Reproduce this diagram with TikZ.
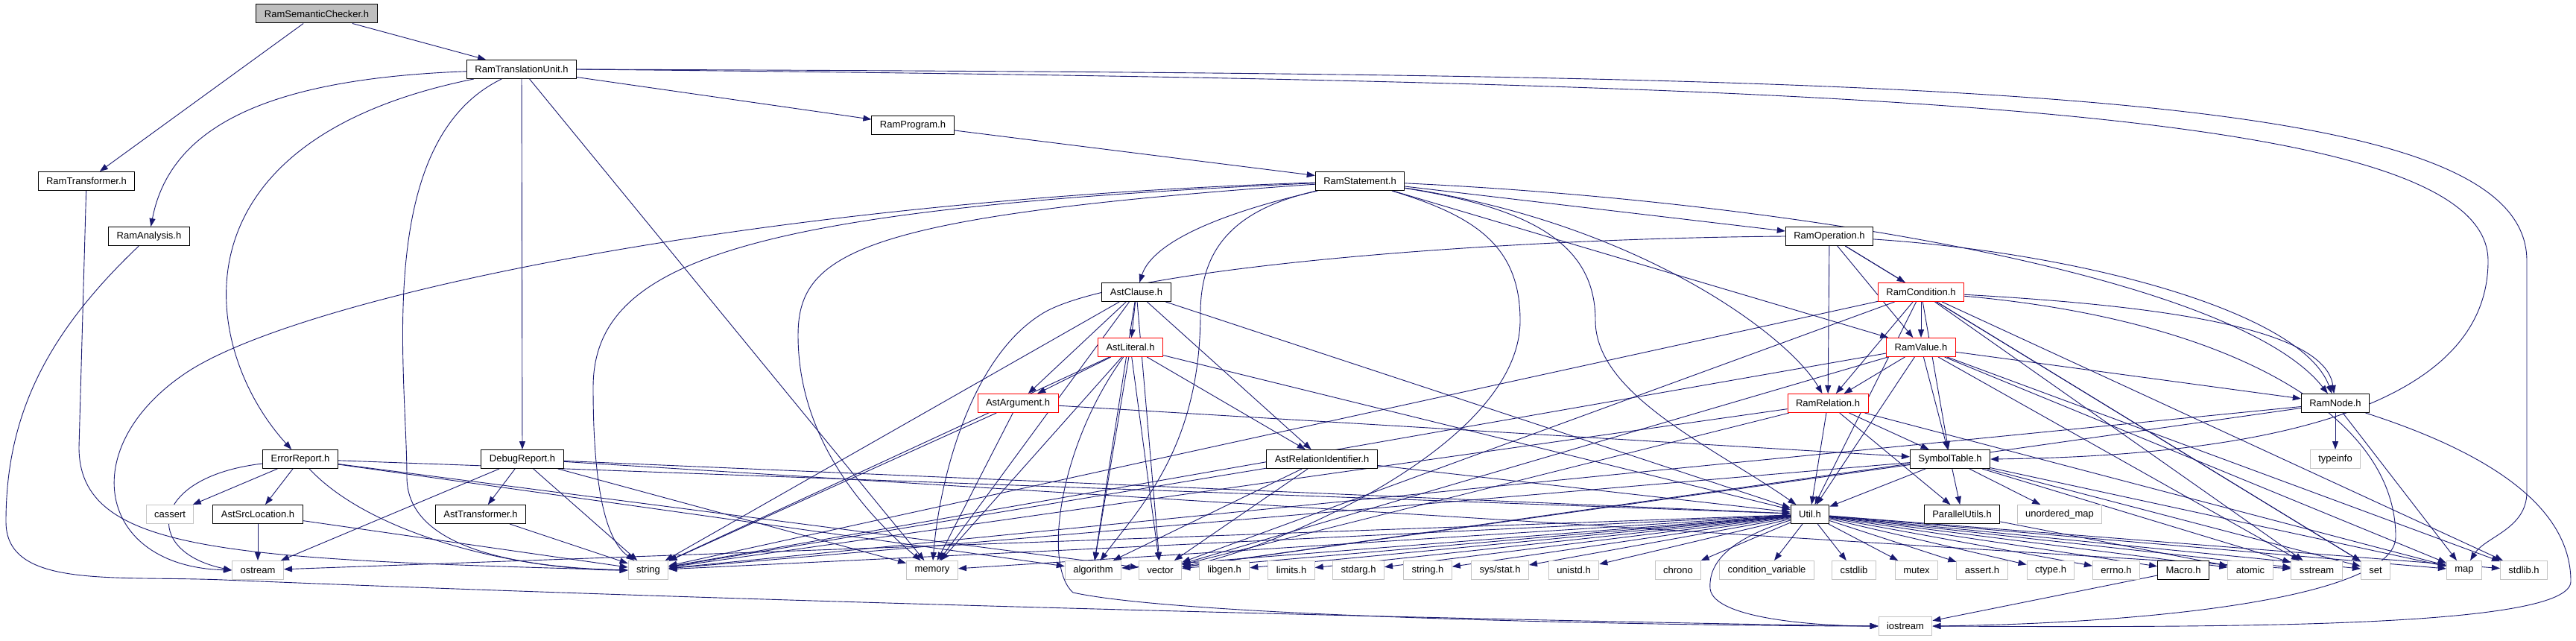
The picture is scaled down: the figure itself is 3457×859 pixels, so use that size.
\documentclass[tikz,border=0pt]{standalone}
\usepackage{fontspec}
\setmainfont{Liberation Sans}
\usepackage{tikz}
\usetikzlibrary{arrows.meta}
\definecolor{edgeblue}{RGB}{25,25,112}
\definecolor{sysgray}{RGB}{196,196,196}
\definecolor{rootgray}{RGB}{191,191,191}
\pgfdeclarelayer{edges}
\pgfsetlayers{edges,main}

\begin{document}
\begin{tikzpicture}[
  x=1pt, y=-1pt,
  box/.style={draw=black, line width=1pt, rectangle, fill=white, minimum height=25pt, inner xsep=11pt, inner ysep=0pt, font=\fontsize{13}{15}\selectfont},
  sys/.style={box, draw=sysgray},
  cut/.style={box, draw=red},
  root/.style={box, fill=rootgray},
  arr/.style={-{Triangle[length=11pt,width=8pt]}, draw=edgeblue, line width=0.9pt}
]
\path[use as bounding box] (0,0) rectangle (3457,859);

% headers
\node[root] (rsc) at (425,18.5) {RamSemanticChecker.h};
\node[box] (rtu) at (700,93) {RamTranslationUnit.h};
\node[box] (rtf) at (116,243) {RamTransformer.h};
\node[box] (ranal) at (200,317) {RamAnalysis.h};
\node[box] (rprog) at (1225,168) {RamProgram.h};
\node[box] (rstmt) at (1825,243) {RamStatement.h};
\node[box] (astcl) at (1525,392) {AstClause.h};
\node[box] (rop) at (2455,317) {RamOperation.h};
\node[cut] (rcond) at (2578,392) {RamCondition.h};
\node[cut] (astlit) at (1517,466) {AstLiteral.h};
\node[cut] (rval) at (2578,466) {RamValue.h};
\node[cut] (astarg) at (1366,541) {AstArgument.h};
\node[cut] (rrel) at (2453,541) {RamRelation.h};
\node[box] (rnode) at (3134,541) {RamNode.h};
\node[box] (err) at (403,616) {ErrorReport.h};
\node[box] (dbg) at (701,616) {DebugReport.h};
\node[box] (astrel) at (1774,616) {AstRelationIdentifier.h};
\node[box] (symt) at (2617,616) {SymbolTable.h};
\node[sys] (tinfo) at (3134,616) {typeinfo};
\node[sys] (cass) at (228,690) {cassert};
\node[box] (srcloc) at (346,690) {AstSrcLocation.h};
\node[box] (asttf) at (645,690) {AstTransformer.h};
\node[box] (util) at (2429,690) {Util.h};
\node[box] (parutil) at (2633,690) {ParallelUtils.h};
\node[sys] (umap) at (2764,690) {unordered\_map};

% bottom row
\node[sys] (ostr) at (346,765) {ostream};
\node[sys] (str) at (870,765) {string};
\node[sys] (mem) at (1251,765) {memory};
\node[sys] (algo) at (1467,765) {algorithm};
\node[sys] (vec) at (1557,765) {vector};
\node[sys] (libgen) at (1643,765) {libgen.h};
\node[sys] (limits) at (1733,765) {limits.h};
\node[sys] (stdarg) at (1823,765) {stdarg.h};
\node[sys] (strh) at (1916,765) {string.h};
\node[sys] (sysstat) at (2013,765) {sys/stat.h};
\node[sys] (unistd) at (2112,765) {unistd.h};
\node[sys] (chrono) at (2252,765) {chrono};
\node[sys] (condvar) at (2371,765) {condition\_variable};
\node[sys] (cstdlib) at (2488,765) {cstdlib};
\node[sys] (mutex) at (2572,765) {mutex};
\node[sys] (asserth) at (2660,765) {assert.h};
\node[sys] (ctype) at (2752,765) {ctype.h};
\node[sys] (errno) at (2840,765) {errno.h};
\node[box] (macro) at (2930,765) {Macro.h};
\node[sys] (atomic) at (3020,765) {atomic};
\node[sys] (sstr) at (3109,765) {sstream};
\node[sys] (set) at (3188,765) {set};
\node[sys] (map) at (3307,765) {map};
\node[sys] (stdlib) at (3387,765) {stdlib.h};
\node[sys] (iost) at (2557,840) {iostream};

\begin{pgfonlayer}{edges}
\fill[white] (0,0) rectangle (3457,859);
% top part
\draw[arr] (rsc) -- (rtu); \draw[arr] (rsc) -- (rtf);
\draw[arr] (rtu) -- (rprog); \draw[arr] (rtu) -- (dbg); \draw[arr] (rtu) -- (mem);
\draw[arr] (rtu) .. controls (380,105) and (230,160) .. (ranal);
\draw[arr] (rtu) .. controls (220,190) and (270,470) .. (err);
\draw[arr] (rtu) .. controls (500,190) and (546,500) .. (546,640) .. controls (546,720) and (650,760) .. (str.west);
\draw[arr] (rtu.east) .. controls (2500,110) and (3339,140) .. (3339,350) .. controls (3339,560) and (3000,612) .. (symt.east);
\draw[arr] (rtu.east) .. controls (2600,100) and (3391,110) .. (3391,350) -- (3391,660) .. controls (3391,710) and (3335,720) .. (map);
\draw[arr] (rtf) -- (106,600) .. controls (106,740) and (300,750) .. (str.west);
\draw[arr] (ranal) .. controls (60,450) and (8,560) .. (8,700) .. controls (8,790) and (150,772) .. (300,778) .. controls (1200,815) and (2300,838) .. (iost.west);
\draw[arr] (rprog) -- (rstmt);

% RamStatement.h
\draw[arr] (rstmt) .. controls (1620,290) and (1545,330) .. (astcl);
\draw[arr] (rstmt) -- (rop); \draw[arr] (rstmt) -- (rval);
\draw[arr] (rstmt) .. controls (2200,300) and (2400,450) .. (rrel);
\draw[arr] (rstmt) .. controls (2400,270) and (3000,370) .. (rnode);
\draw[arr] (rstmt) .. controls (2060,280) and (2141,330) .. (2141,430) .. controls (2141,530) and (2300,600) .. (util);
\draw[arr] (rstmt) .. controls (1000,270) and (400,400) .. (250,500) .. controls (100,600) and (130,760) .. (ostr.west);
\draw[arr] (rstmt) .. controls (1000,280) and (796,350) .. (796,520) .. controls (796,680) and (820,730) .. (str);
\draw[arr] (rstmt) .. controls (1150,290) and (1071,340) .. (1071,450) .. controls (1071,580) and (1150,680) .. (mem);
\draw[arr] (rstmt) .. controls (1660,280) and (1611,330) .. (1611,420) .. controls (1611,600) and (1530,680) .. (algo);
\draw[arr] (rstmt) .. controls (1980,290) and (2040,330) .. (2040,430) .. controls (2040,600) and (1700,740) .. (vec);

% RamOperation.h, RamCondition.h, RamValue.h, RamRelation.h, RamNode.h
\draw[arr] (rop) -- (rcond); \draw[arr] (rop) -- (rval); \draw[arr] (rop) -- (rrel); \draw[arr] (rop) -- (set);
\draw[arr] (rop) .. controls (2800,340) and (3090,420) .. (rnode);
\draw[arr] (rop.west) .. controls (2000,320) and (1500,360) .. (1400,420) .. controls (1300,480) and (1260,650) .. (mem);
\draw[arr] (rcond) -- (rval); \draw[arr] (rcond) -- (rrel); \draw[arr] (rcond) -- (util); \draw[arr] (rcond) -- (symt);
\draw[arr] (rcond) -- (str); \draw[arr] (rcond) -- (sstr); \draw[arr] (rcond) -- (set); \draw[arr] (rcond) -- (stdlib); \draw[arr] (rcond) -- (vec);
\draw[arr] (rcond) .. controls (2900,410) and (3120,440) .. (rnode);
\draw[arr] (rcond) .. controls (3000,430) and (3215,560) .. (3215,720) .. controls (3215,800) and (2900,836) .. (iost.east);
\draw[arr] (rval) -- (rrel); \draw[arr] (rval) -- (rnode); \draw[arr] (rval) -- (symt); \draw[arr] (rval) -- (util);
\draw[arr] (rval) -- (str); \draw[arr] (rval) -- (vec); \draw[arr] (rval) -- (sstr); \draw[arr] (rval) -- (map); \draw[arr] (rval) -- (stdlib);
\draw[arr] (rrel) -- (symt); \draw[arr] (rrel) -- (util); \draw[arr] (rrel) -- (parutil);
\draw[arr] (rrel) -- (str); \draw[arr] (rrel) -- (vec); \draw[arr] (rrel) -- (map);
\draw[arr] (rnode) -- (tinfo); \draw[arr] (rnode) -- (str); \draw[arr] (rnode) -- (vec); \draw[arr] (rnode) -- (map);
\draw[arr] (rnode) .. controls (3380,620) and (3450,700) .. (3450,780) .. controls (3450,842) and (3000,842) .. (iost.east);

% Ast*.h
\draw[arr] (astcl) -- (astlit); \draw[arr] (astcl) -- (astarg); \draw[arr] (astcl) -- (astrel); \draw[arr] (astcl) -- (util);
\draw[arr] (astcl) -- (str); \draw[arr] (astcl) -- (mem); \draw[arr] (astcl) -- (vec); \draw[arr] (astcl) -- (algo);
\draw[arr] (astlit) -- (astarg); \draw[arr] (astlit) -- (astrel); \draw[arr] (astlit) -- (util); \draw[arr] (astlit) -- (mem);
\draw[arr] (astlit) -- (str); \draw[arr] (astlit) -- (vec); \draw[arr] (astlit) -- (algo);
\draw[arr] (astlit) .. controls (1420,600) and (1400,760) .. (1440,795) .. controls (1600,830) and (2300,840) .. (iost.west);
\draw[arr] (astarg) -- (symt); \draw[arr] (astarg) -- (str); \draw[arr] (astarg) -- (mem);
\draw[arr] (astrel) -- (str); \draw[arr] (astrel) -- (vec); \draw[arr] (astrel) -- (algo); \draw[arr] (astrel) -- (util);

% SymbolTable.h
\draw[arr] (symt) -- (util); \draw[arr] (symt) -- (parutil); \draw[arr] (symt) -- (umap); \draw[arr] (symt) -- (str);
\draw[arr] (symt) -- (vec); \draw[arr] (symt) -- (sstr); \draw[arr] (symt) -- (set); \draw[arr] (symt) -- (map);

% ErrorReport.h, DebugReport.h
\draw[arr] (err) -- (cass); \draw[arr] (err) -- (srcloc); \draw[arr] (err) -- (algo); \draw[arr] (err) -- (vec); \draw[arr] (err) -- (util);
\draw[arr] (err) .. controls (200,640) and (190,740) .. (ostr.west);
\draw[arr] (err) .. controls (500,720) and (700,765) .. (str.west);
\draw[arr] (dbg) -- (ostr); \draw[arr] (dbg) -- (asttf); \draw[arr] (dbg) -- (str); \draw[arr] (dbg) -- (mem);
\draw[arr] (dbg) -- (util); \draw[arr] (dbg) -- (sstr);
\draw[arr] (srcloc) -- (ostr); \draw[arr] (srcloc) -- (str); \draw[arr] (asttf) -- (str);
\draw[arr] (parutil) -- (atomic); \draw[arr] (macro) -- (iost);

% Util.h
\draw[arr] (util) -- (chrono); \draw[arr] (util) -- (condvar); \draw[arr] (util) -- (cstdlib); \draw[arr] (util) -- (mutex);
\draw[arr] (util) -- (asserth); \draw[arr] (util) -- (ctype); \draw[arr] (util) -- (errno); \draw[arr] (util) -- (macro);
\draw[arr] (util) -- (atomic); \draw[arr] (util) -- (sstr); \draw[arr] (util) -- (set); \draw[arr] (util) -- (map); \draw[arr] (util) -- (stdlib);
\draw[arr] (util) -- (algo); \draw[arr] (util) -- (vec); \draw[arr] (util) -- (libgen); \draw[arr] (util) -- (limits);
\draw[arr] (util) -- (stdarg); \draw[arr] (util) -- (strh); \draw[arr] (util) -- (sysstat); \draw[arr] (util) -- (unistd);
\draw[arr] (util) -- (mem); \draw[arr] (util) -- (str); \draw[arr] (util) -- (ostr);
\draw[arr] (util) .. controls (2330,720) and (2292,750) .. (2295,790) .. controls (2300,832) and (2450,840) .. (iost.west);
\end{pgfonlayer}
\end{tikzpicture}
\end{document}
